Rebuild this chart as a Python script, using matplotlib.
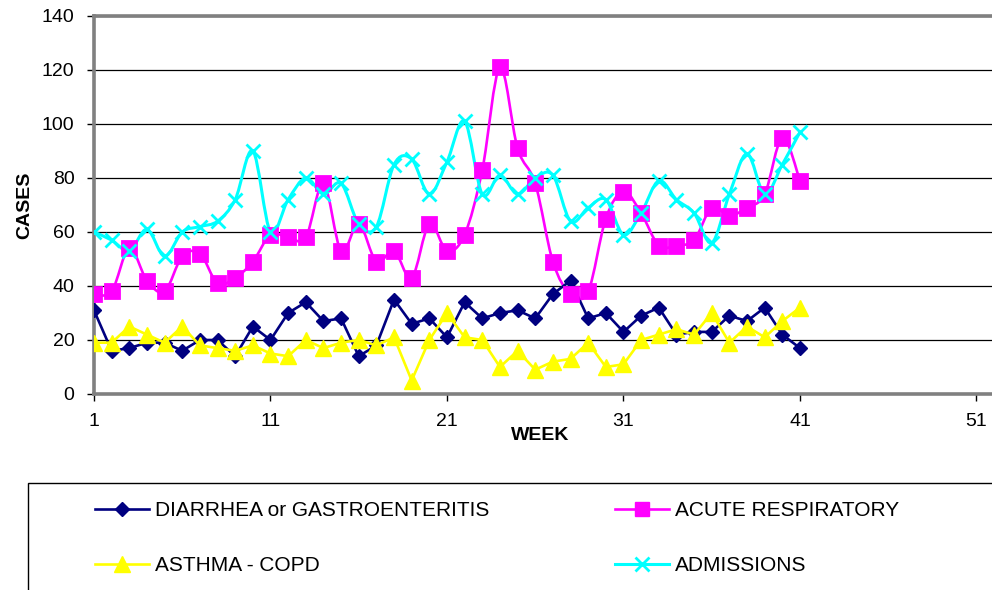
# Weekly surveillance counts, 4 syndromes
import numpy as np
import matplotlib.pyplot as plt
from matplotlib.path import Path
from matplotlib.patches import PathPatch, Rectangle
from matplotlib.lines import Line2D

plt.rcParams['font.family'] = ['Liberation Sans', 'DejaVu Sans']

weeks = np.arange(1, 42)

diarrhea = [31, 16, 17, 19, 19, 16, 20, 20, 14, 25, 20, 30, 34, 27, 28, 14, 18, 35, 26, 28,
            21, 34, 28, 30, 31, 28, 37, 42, 28, 30, 23, 29, 32, 22, 23, 23, 29, 27, 32, 22, 17]
respiratory = [37, 38, 54, 42, 38, 51, 52, 41, 43, 49, 59, 58, 58, 78, 53, 63, 49, 53, 43, 63,
               53, 59, 83, 121, 91, 78, 49, 37, 38, 65, 75, 67, 55, 55, 57, 69, 66, 69, 74, 95, 79]
asthma = [19, 19, 25, 22, 19, 25, 18, 17, 16, 18, 15, 14, 20, 17, 19, 20, 18, 21, 5, 20,
          30, 21, 20, 10, 16, 9, 12, 13, 19, 10, 11, 20, 22, 24, 22, 30, 19, 25, 21, 27, 32]
admissions = [60, 57, 53, 61, 51, 60, 62, 64, 72, 90, 60, 72, 80, 74, 78, 63, 62, 85, 87, 74,
              86, 101, 74, 81, 74, 80, 81, 64, 69, 72, 59, 67, 79, 72, 67, 56, 74, 89, 74, 85, 97]

labels = ["DIARRHEA or GASTROENTERITIS", "ACUTE RESPIRATORY", "ASTHMA - COPD", "ADMISSIONS"]
colors = ["#000080", "#FF00FF", "#FFFF00", "#00FFFF"]
markers = ["D", "s", "^", "x"]
msizes = [7.5, 9.5, 11, 10]
smooth = [False, True, False, True]
series = [diarrhea, respiratory, asthma, admissions]


def smooth_path(x, y):
    # Excel-style smoothed line: cubic Bezier through every point
    pts = np.column_stack([x, y]).astype(float)
    n = len(pts)
    verts = [pts[0]]
    codes = [Path.MOVETO]
    for i in range(n - 1):
        p0 = pts[max(i - 1, 0)]
        p1 = pts[i]
        p2 = pts[i + 1]
        p3 = pts[min(i + 2, n - 1)]
        verts += [p1 + (p2 - p0) / 6, p2 - (p3 - p1) / 6, p2]
        codes += [Path.CURVE4] * 3
    return Path(verts, codes)


fig = plt.figure(figsize=(9.92, 5.9), dpi=100)
ax = fig.add_axes([94 / 992, 1 - 394 / 590, (992 - 94) / 992, (394 - 16) / 590])

handles = []
for vals, lab, col, mk, ms, sm in zip(series, labels, colors, markers, msizes, smooth):
    lw = 2.2 if col == "#00FFFF" else 1.9
    if sm:
        ax.add_patch(PathPatch(smooth_path(weeks, vals), facecolor="none", edgecolor=col,
                               lw=lw, zorder=3))
        ax.plot(weeks, vals, linestyle="none", marker=mk, ms=ms, color=col,
                mec=col, mew=2, zorder=4)
    else:
        ax.plot(weeks, vals, "-", marker=mk, ms=ms, color=col, mec=col, lw=lw,
                mew=1, zorder=4)
    handles.append(Line2D([], [], color=col, marker=mk, ms=ms, mec=col, lw=lw,
                          mew=2 if mk == "x" else 1, label=lab))

ax.set_xlim(1, 51.88)
ax.set_ylim(0, 140)
ax.set_xticks(np.arange(1, 52, 10))
ax.set_yticks(np.arange(0, 141, 20))
ax.yaxis.grid(True, color="black", lw=0.9)
ax.set_axisbelow(True)

for s in ["left", "bottom", "top"]:
    ax.spines[s].set_color("#808080")
    ax.spines[s].set_linewidth(2.6)
ax.spines["right"].set_visible(False)
ax.tick_params(axis="both", labelsize=14, length=5, width=1, color="black", direction="out")
ax.tick_params(axis="y", pad=9)
ax.tick_params(axis="x", pad=9)

ax.set_xlabel("WEEK", fontsize=14, fontweight="bold")
ax.xaxis.set_label_coords(0.497, -0.088)
ax.set_ylabel("CASES", fontsize=14, fontweight="bold")
ax.yaxis.set_label_coords(-0.068, 0.5)

# legend box runs off the right and bottom edge
fig.add_artist(Rectangle((28 / 992, -0.2), 1.2, 0.2 + 1 - 483 / 590, transform=fig.transFigure,
                         facecolor="none", edgecolor="black", lw=1, clip_on=False))
order = [handles[0], handles[2], handles[1], handles[3]]
fig.legend(handles=order, ncol=2, loc="upper left", bbox_to_anchor=(95 / 992, 1 - 501 / 590),
           frameon=False, fontsize=15, borderpad=0, borderaxespad=0, handlelength=2.6,
           handletextpad=0.3, labelspacing=1.72, columnspacing=6.0)

plt.savefig("out.png", dpi=100)
